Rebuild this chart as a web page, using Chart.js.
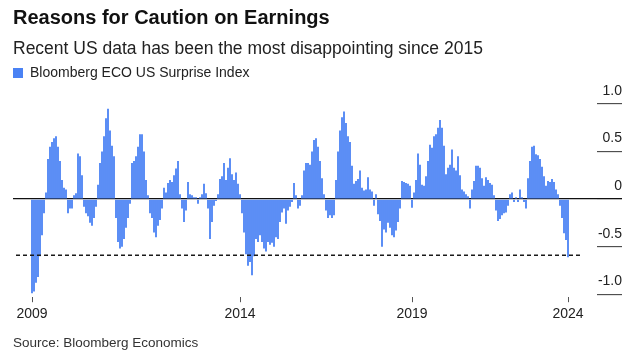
<!DOCTYPE html>
<html>
<head>
<meta charset="utf-8">
<script src="https://cdn.jsdelivr.net/npm/chart.js@4.4.1/dist/chart.umd.min.js"></script>
<style>
  html, body { margin: 0; padding: 0; background: #fff; }
  body { width: 640px; height: 363px; position: relative; overflow: hidden; font-family: "Liberation Sans", Arial, sans-serif; }
  #chartBox { position: absolute; left: 0; top: 0; width: 640px; height: 363px; }
  .title { position: absolute; left: 13px; top: 6px; font-size: 20px; font-weight: bold; color: #111; white-space: nowrap; }
  .subtitle { position: absolute; left: 13px; top: 38px; font-size: 17.5px; color: #222; white-space: nowrap; }
  .source { position: absolute; left: 13px; top: 335px; font-size: 13.5px; color: #333; white-space: nowrap; }
</style>
</head>
<body>
<div id="chartBox"><canvas id="surpriseChart" width="640" height="363"></canvas></div>
<div class="title">Reasons for Caution on Earnings</div>
<div class="subtitle">Recent US data has been the most disappointing since 2015</div>
<div class="source">Source: Bloomberg Economics</div>

<script>
// Bloomberg ECO US Surprise Index (one bar per reading)
const seriesName = 'Bloomberg ECO US Surprise Index';
const surprise = [
  -0.99, -0.97, -0.88, -0.82, -0.6, -0.38, -0.15, 0.07, 0.42, 0.55,
  0.6, 0.64, 0.66, 0.55, 0.4, 0.2, 0.12, 0.1, -0.15, -0.1,
  -0.1, 0.04, 0.06, 0.48, 0.45, 0.25, -0.08, -0.15, -0.18, -0.25,
  -0.28, -0.2, -0.08, 0.15, 0.38, 0.5, 0.66, 0.85, 0.95, 0.72,
  0.56, 0.45, -0.2, -0.45, -0.52, -0.5, -0.42, -0.3, -0.2, -0.05,
  0.38, 0.4, 0.45, 0.55, 0.68, 0.68, 0.5, 0.2, 0.04, -0.15,
  -0.2, -0.35, -0.4, -0.28, -0.22, -0.1, 0.12, 0.07, 0.17, 0.2,
  0.18, 0.25, 0.32, 0.4, 0.05, -0.1, -0.24, -0.12, 0.18, 0.05,
  0.04, 0.02, 0.02, -0.05, 0.02, 0.05, 0.16, 0.06, -0.1, -0.42,
  -0.24, -0.07, -0.02, 0.05, 0.21, 0.24, 0.38, 0.2, 0.33, 0.43,
  0.26, 0.2, 0.28, 0.16, 0.05, -0.15, -0.35, -0.58, -0.7, -0.66,
  -0.8, -0.6, -0.42, -0.45, -0.38, -0.45, -0.52, -0.55, -0.45, -0.48,
  -0.46, -0.5, -0.4, -0.42, -0.24, -0.14, -0.1, -0.26, -0.12, -0.08,
  -0.03, 0.17, 0.04, -0.1, -0.07, 0.04, 0.3, 0.38, 0.38, 0.36,
  0.5, 0.62, 0.64, 0.55, 0.4, 0.22, 0.05, -0.12, -0.2, -0.17,
  -0.2, -0.17, 0.2, 0.5, 0.72, 0.86, 0.92, 0.8, 0.66, 0.6,
  0.35, 0.16, 0.19, 0.21, 0.3, 0.12, 0.09, 0.1, 0.23, 0.1,
  0.08, -0.07, 0.05, -0.16, -0.23, -0.5, -0.32, -0.35, -0.25, -0.3,
  -0.38, -0.4, -0.33, -0.24, -0.1, 0.19, 0.18, 0.17, 0.16, 0.14,
  -0.09, 0.07, 0.2, 0.48, 0.36, 0.15, 0.14, 0.24, 0.4, 0.57,
  0.54, 0.66, 0.68, 0.75, 0.83, 0.75, 0.56, 0.26, 0.33, 0.36,
  0.52, 0.33, 0.3, 0.45, 0.25, 0.1, 0.08, 0.05, 0.03, -0.1,
  0.1, 0.19, 0.35, 0.35, 0.33, 0.22, 0.14, 0.23, 0.2, 0.17,
  0.15, 0.04, -0.12, -0.23, -0.21, -0.17, -0.15, -0.14, -0.07, 0.05,
  0.07, -0.03, 0.02, -0.03, 0.1, 0.02, -0.03, -0.1, 0.22, 0.4,
  0.55, 0.56, 0.47, 0.46, 0.42, 0.34, 0.24, 0.14, 0.19, 0.18,
  0.21, 0.18, 0.1, 0.05, -0.07, -0.2, -0.36, -0.43, -0.61
];

// first reading of each labelled year
const yearLabels = ['2009', '2014', '2019', '2024'];
const yearStart = [0, 104, 190, 268];

// dashed reference: the current (most disappointing since 2015) level
const cautionLevel = -0.59;

const yTicks = [-1, -0.5, 0, 0.5, 1];
const yMin = -1.031;
const yMax = 1.146;

// empty slots on either side of the series, so the axis runs a little past the data
const leadGap = 9;
const tailGap = 14;

const labels = [];
const bars = [];
const caution = [];
const total = leadGap + surprise.length + tailGap;
for (let k = 0; k < total; k++) {
    const i = k - leadGap;
    const y = yearStart.indexOf(i);
    labels.push(y >= 0 ? yearLabels[y] : '');
    bars.push(i >= 0 && i < surprise.length ? surprise[i] : null);
    caution.push(k >= 1 && k <= total - 9 ? cautionLevel : null);
}

Chart.defaults.font.family = '"Liberation Sans", Arial, sans-serif';
Chart.defaults.color = '#222';

const fixedTicks = scale => {
    scale.ticks = yTicks.map(v => ({ value: v }));
};
const isZero = c => c.tick && c.tick.value === 0;

const ctx = document.getElementById('surpriseChart').getContext('2d');
new Chart(ctx, {
    type: 'bar',
    data: {
        labels: labels,
        datasets: [
            {
                label: seriesName,
                data: bars,
                backgroundColor: '#4a82f4',
                borderWidth: 0,
                barPercentage: 0.9,
                categoryPercentage: 1,
                order: 1
            },
            {
                label: 'caution',
                type: 'line',
                data: caution,
                borderColor: '#1a1a1a',
                borderWidth: 1.6,
                borderDash: [4, 3],
                pointRadius: 0,
                fill: false,
                order: 0
            }
        ]
    },
    options: {
        responsive: false,
        animation: false,
        devicePixelRatio: 1,
        layout: {
            padding: { left: 13, right: 18, top: 66, bottom: 36 }
        },
        plugins: {
            legend: {
                display: true,
                position: 'top',
                align: 'start',
                labels: {
                    boxWidth: 10,
                    boxHeight: 10,
                    padding: 0,
                    color: '#222',
                    font: { size: 14 },
                    filter: item => item.datasetIndex === 0
                }
            },
            tooltip: { enabled: false }
        },
        scales: {
            x: {
                type: 'category',
                offset: true,
                grid: {
                    offset: false,
                    drawOnChartArea: false,
                    tickLength: 5,
                    color: c => labels[c.index] ? '#555' : 'rgba(0,0,0,0)'
                },
                border: { display: false },
                ticks: {
                    autoSkip: false,
                    maxRotation: 0,
                    minRotation: 0,
                    padding: 4,
                    color: '#222',
                    font: { size: 14 },
                    callback: (v, i) => labels[i]
                }
            },
            // value axis: zero line across the plot, short tick rules on the right
            y: {
                position: 'right',
                weight: 0,
                min: yMin,
                max: yMax,
                afterBuildTicks: fixedTicks,
                grid: {
                    drawOnChartArea: true,
                    color: c => isZero(c) ? '#111' : 'rgba(0,0,0,0)',
                    lineWidth: 1.3,
                    tickLength: 25,
                    tickColor: c => isZero(c) ? '#111' : '#333',
                    tickWidth: c => isZero(c) ? 1.3 : 1
                },
                border: { display: false },
                ticks: { display: false }
            },
            // label axis: numbers sitting above the tick rules
            yLabels: {
                position: 'right',
                weight: 1,
                min: yMin,
                max: yMax,
                afterBuildTicks: fixedTicks,
                grid: { display: false, drawTicks: false },
                border: { display: false },
                ticks: {
                    mirror: true,
                    padding: 0,
                    crossAlign: 'near',
                    labelOffset: -13,
                    color: '#222',
                    font: { size: 14 },
                    callback: v => v === 0 ? '0' : v.toFixed(1)
                }
            }
        }
    }
});
</script>
</body>
</html>
